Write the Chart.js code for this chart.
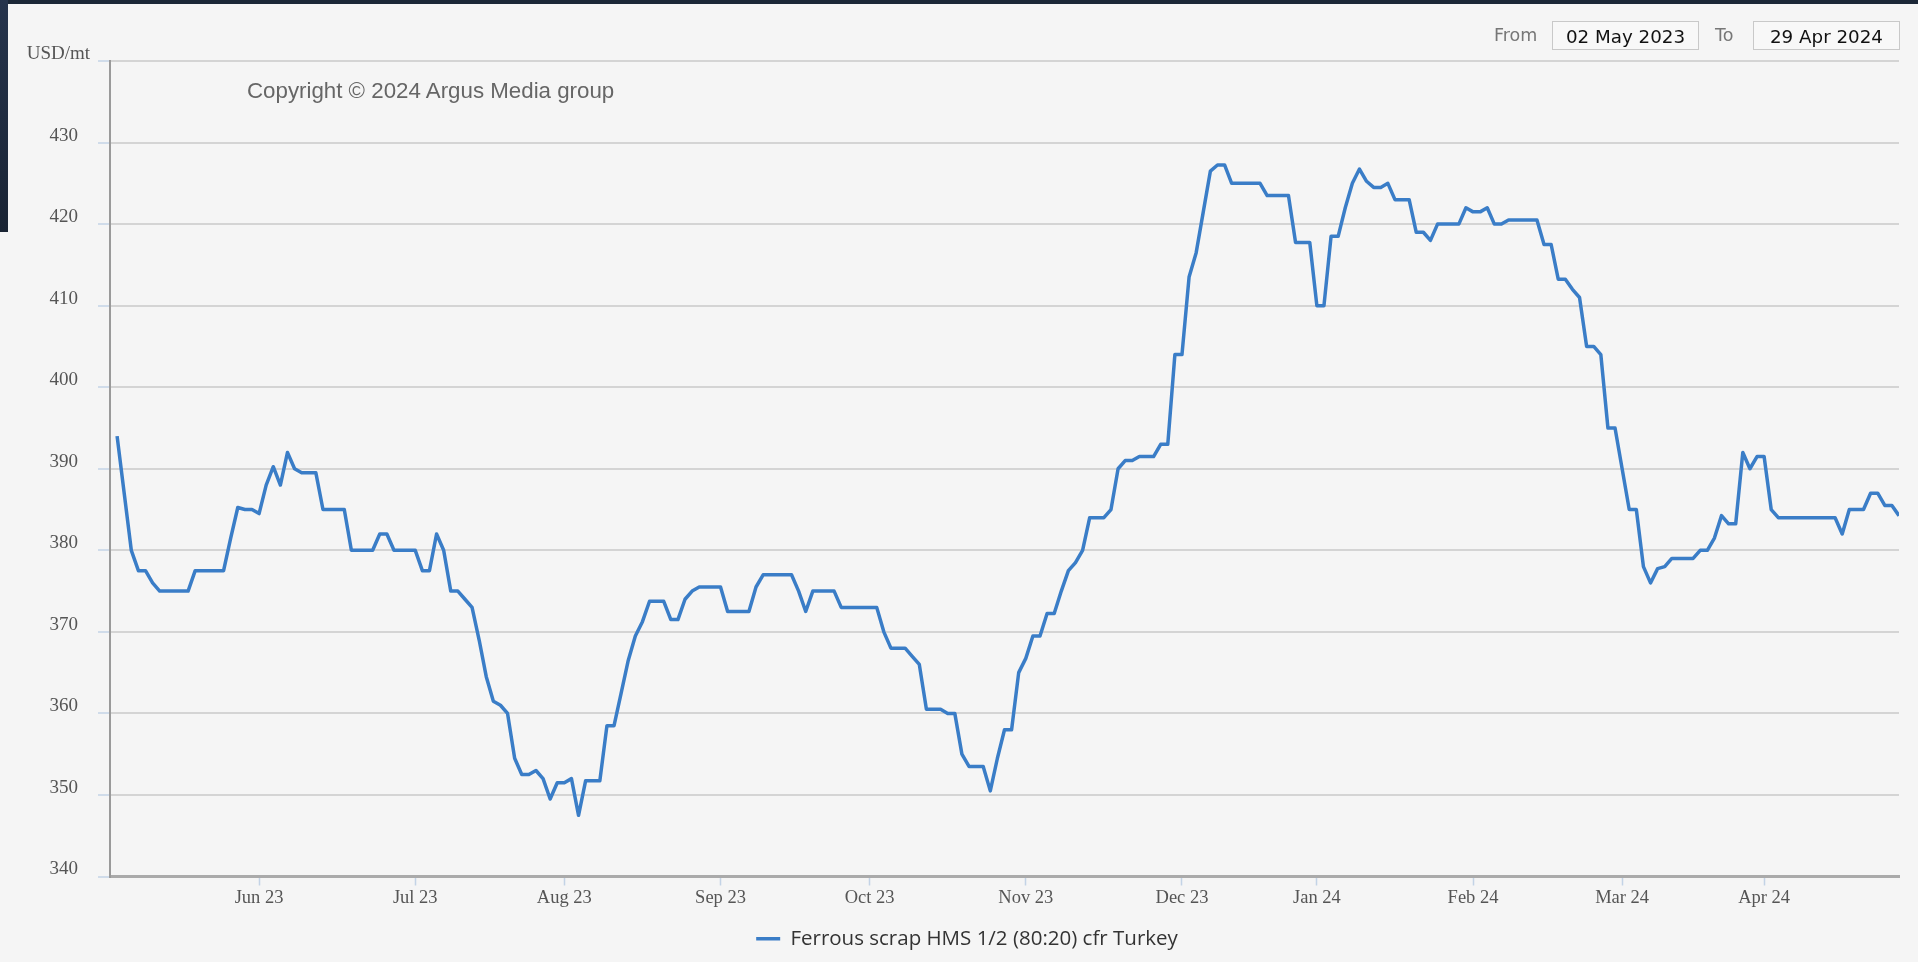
<!DOCTYPE html>
<html>
<head>
<meta charset="utf-8">
<title>Ferrous scrap HMS 1/2 (80:20) cfr Turkey</title>
<script src="https://cdn.jsdelivr.net/npm/chart.js@4.4.1/dist/chart.umd.min.js"></script>
<style>
    html, body { margin: 0; padding: 0; }
    body {
        width: 1918px; height: 962px; overflow: hidden; position: relative;
        background: #f5f5f5; font-family: "DejaVu Sans", sans-serif;
    }
    #chart-wrap { position: absolute; left: 0; top: 0; width: 1918px; height: 962px; }
    .edge-top { position: absolute; left: 0; top: 0; width: 1918px; height: 4px; background: #1c2737; }
    .edge-left { position: absolute; left: 0; top: 0; width: 8px; height: 232px; background: linear-gradient(#26344c, #1a2434); }
    .copyright {
        position: absolute; left: 247px; top: 78px; line-height: 26px;
        font: 22.3px "Liberation Sans", Arial, sans-serif; color: #666;
    }
    .range-label, .range-box {
        position: absolute; top: 21px; height: 29px; line-height: 29px;
        box-sizing: border-box;
    }
    .range-label { color: #777; font-size: 17.5px; }
    .range-box {
        width: 147px; border: 1px solid #c9c9c9; background: #f8f8f8;
        color: #111; text-align: center; font-size: 18.3px;
    }
</style>
</head>
<body>
<div id="chart-wrap"><canvas id="price-chart" width="1918" height="962"></canvas></div>
<div class="edge-top"></div>
<div class="edge-left"></div>
<div class="copyright">Copyright © 2024 Argus Media group</div>
<span class="range-label" style="left:1494px">From</span>
<div class="range-box" style="left:1552px">02 May 2023</div>
<span class="range-label" style="left:1715px">To</span>
<div class="range-box" style="left:1753px">29 Apr 2024</div>
<script>
// 数据: 交易日 (UK, 周一到周五, 去掉银行假日)
const startDate = '2023-05-02';
const endDate = '2024-04-29';
const holidays = ['2023-05-08', '2023-05-29', '2023-08-28', '2023-12-25', '2023-12-26',
    '2024-01-01', '2024-03-29', '2024-04-01'];

const seriesName = 'Ferrous scrap HMS 1/2 (80:20) cfr Turkey';
const unit = 'USD/mt';

// USD/mt, one value per trading day
const prices = [
    // May 23
    394, 387, 380, 377.5, 377.5, 376, 375, 375, 375, 375, 375, 377.5, 377.5, 377.5, 377.5, 377.5, 381.5, 385.25, 385, 385,
    // Jun 23
    384.5, 388, 390.25, 388, 392, 390, 389.5, 389.5, 389.5, 385, 385, 385, 385, 380, 380, 380, 380, 382, 382, 380, 380, 380,
    // Jul 23
    380, 377.5, 377.5, 382, 380, 375, 375, 374, 373, 369, 364.5, 361.5, 361, 360, 354.5, 352.5, 352.5, 353, 352, 349.5, 351.5,
    // Aug 23
    351.5, 352, 347.5, 351.75, 351.75, 351.75, 358.5, 358.5, 362.5, 366.5, 369.5, 371.25, 373.75, 373.75, 373.75, 371.5, 371.5, 374, 375, 375.5, 375.5, 375.5,
    // Sep 23
    375.5, 372.5, 372.5, 372.5, 372.5, 375.5, 377, 377, 377, 377, 377, 375, 372.5, 375, 375, 375, 375, 373, 373, 373, 373,
    // Oct 23
    373, 373, 370, 368, 368, 368, 367, 366, 360.5, 360.5, 360.5, 360, 360, 355, 353.5, 353.5, 353.5, 350.5, 354.5, 358, 358, 365,
    // Nov 23
    366.75, 369.5, 369.5, 372.25, 372.25, 375, 377.5, 378.5, 380, 384, 384, 384, 385, 390, 391, 391, 391.5, 391.5, 391.5, 393, 393, 404,
    // Dec 23
    404, 413.5, 416.5, 421.5, 426.5, 427.25, 427.25, 425, 425, 425, 425, 425, 423.5, 423.5, 423.5, 423.5, 417.75, 417.75, 417.75,
    // Jan 24
    410, 410, 418.5, 418.5, 422, 425, 426.75, 425.25, 424.5, 424.5, 425, 423, 423, 423, 419, 419, 418, 420, 420, 420, 420, 422,
    // Feb 24
    421.5, 421.5, 422, 420, 420, 420.5, 420.5, 420.5, 420.5, 420.5, 417.5, 417.5, 413.25, 413.25, 412, 411, 405, 405, 404, 395, 395,
    // Mar 24
    390, 385, 385, 378, 376, 377.75, 378, 379, 379, 379, 379, 380, 380, 381.5, 384.25, 383.25, 383.25, 392, 390, 391.5,
    // Apr 24
    391.5, 385, 384, 384, 384, 384, 384, 384, 384, 384, 384, 382, 385, 385, 385, 387, 387, 385.5, 385.5, 384.25
];

const monthTicks = ['Jun 23', 'Jul 23', 'Aug 23', 'Sep 23', 'Oct 23', 'Nov 23',
    'Dec 23', 'Jan 24', 'Feb 24', 'Mar 24', 'Apr 24'];

const yMin = 340;
const yMax = 440;
const yStep = 10;

// 交易日列表
const dates = [];
for (let d = new Date(startDate + 'T00:00:00Z'); d <= new Date(endDate + 'T00:00:00Z'); d.setUTCDate(d.getUTCDate() + 1)) {
    const iso = d.toISOString().slice(0, 10);
    const wd = d.getUTCDay();
    if (wd !== 0 && wd !== 6 && !holidays.includes(iso)) dates.push(iso);
}

const MON = ['Jan', 'Feb', 'Mar', 'Apr', 'May', 'Jun', 'Jul', 'Aug', 'Sep', 'Oct', 'Nov', 'Dec'];
function monthLabel(iso) {
    return MON[parseInt(iso.slice(5, 7), 10) - 1] + ' ' + iso.slice(2, 4);
}

// first trading day of each labelled month
const tickPos = monthTicks.map(lbl => dates.findIndex(d => monthLabel(d) === lbl));

// USD/mt 单位标签
const unitLabel = {
    id: 'unitLabel',
    afterDraw(chart) {
        const { ctx } = chart;
        const y = chart.scales.y;
        ctx.save();
        ctx.font = '19px "Liberation Serif", serif';
        ctx.fillStyle = '#555';
        ctx.textAlign = 'right';
        ctx.textBaseline = 'middle';
        ctx.fillText(unit, y.right - 20, y.getPixelForValue(yMax) - 7);
        ctx.restore();
    }
};

new Chart(document.getElementById('price-chart'), {
    type: 'line',
    data: {
        datasets: [{
            label: seriesName,
            data: prices.map((v, i) => ({ x: i, y: v })),
            borderColor: '#3a7dc7',
            backgroundColor: '#3a7dc7',
            borderWidth: 3.5,
            borderJoinStyle: 'round',
            pointRadius: 0,
            tension: 0
        }]
    },
    options: {
        responsive: false,
        animation: false,
        devicePixelRatio: 1,
        layout: { padding: { left: 35, right: 19, top: 61, bottom: 3 } },
        plugins: {
            tooltip: { enabled: false },
            legend: {
                position: 'bottom',
                labels: {
                    usePointStyle: true,
                    pointStyle: 'line',
                    pointStyleWidth: 24,
                    padding: 10,
                    color: '#333',
                    font: { family: '"Open Sans", sans-serif', size: 20.5 }
                }
            }
        },
        scales: {
            x: {
                type: 'linear',
                min: -1,
                max: dates.length - 1,
                afterBuildTicks: scale => {
                    scale.ticks = tickPos.map(v => ({ value: v }));
                },
                afterFit: scale => { scale.height = 42; },
                ticks: {
                    autoSkip: false,
                    maxRotation: 0,
                    padding: 2,
                    color: '#555',
                    font: { family: '"Liberation Serif", serif', size: 18.5 },
                    callback: (v, i) => monthTicks[i]
                },
                grid: { drawOnChartArea: false, tickLength: 9, tickColor: '#c3d3e6', tickWidth: 1.5 },
                border: { color: '#aaaaaa', width: 3 }
            },
            y: {
                min: yMin,
                max: yMax,
                afterFit: scale => { scale.width = 75; },
                ticks: {
                    stepSize: yStep,
                    padding: 20,
                    labelOffset: -7,
                    color: '#555',
                    font: { family: '"Liberation Serif", serif', size: 19 },
                    callback: v => (v === yMax ? '' : v)
                },
                grid: { color: '#d4d4d4', lineWidth: 2, tickLength: 12, tickColor: '#c3d3e6', tickWidth: 1.5 },
                border: { color: '#9a9a9a', width: 2 }
            }
        }
    },
    plugins: [unitLabel]
});
</script>
</body>
</html>
